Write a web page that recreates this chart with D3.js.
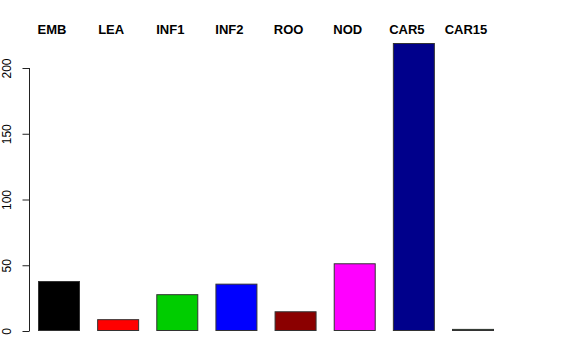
<!DOCTYPE html>
<html>
<head>
<meta charset="utf-8">
<script src="https://cdn.jsdelivr.net/npm/d3@7"></script>
<style>
  html, body { margin: 0; padding: 0; background: #fff; }
  svg { display: block; font-family: "Liberation Sans", Arial, sans-serif; }
</style>
</head>
<body>
<svg id="chart" width="576" height="360"></svg>
<script>
const categories = ['EMB', 'LEA', 'INF1', 'INF2', 'ROO', 'NOD', 'CAR5', 'CAR15'];
const values = [38, 9, 28, 36, 15, 51.5, 219, 1.6];
const barColors = ['#000000', '#ff0000', '#00cd00', '#0000ff', '#8b0000', '#ff00ff', '#00008b', '#006400'];
const yTicks = [0, 50, 100, 150, 200];

const width = 576, height = 360;
const svg = d3.select('#chart');

const x = d3.scaleBand()
    .domain(categories)
    .range([38, 494])
    .paddingInner(0.29)
    .paddingOuter(0);

const y = d3.scaleLinear()
    .domain([0, 200])
    .range([331, 68]);

// bars
svg.append('g')
    .selectAll('rect')
    .data(categories)
    .join('rect')
    .attr('x', d => x(d) + 0.5)
    .attr('y', (d, i) => y(values[i]) + 0.5)
    .attr('width', x.bandwidth() - 1)
    .attr('height', (d, i) => y(0) - y(values[i]) - 1)
    .attr('fill', (d, i) => barColors[i])
    .attr('stroke', '#333')
    .attr('stroke-width', 1);

// y axis, R style
svg.append('g')
    .attr('transform', 'translate(29.5,0)')
    .call(d3.axisLeft(y).tickValues(yTicks).tickSize(7).tickPadding(0).tickFormat(d3.format('d')))
    .call(g => g.select('.domain').attr('d', `M0,${y(0)}V${y(200)}`).attr('stroke', '#222'))
    .call(g => g.selectAll('.tick line').attr('stroke', '#222'))
    .call(g => g.selectAll('.tick text')
        .attr('transform', 'rotate(-90)')
        .attr('x', 0)
        .attr('y', -18.5)
        .attr('dy', 0)
        .attr('text-anchor', 'middle')
        .attr('font-size', 12)
        .attr('font-family', '"Liberation Sans", Arial, sans-serif')
        .attr('fill', '#000'));

// category labels on top
svg.append('g')
    .selectAll('text')
    .data(categories)
    .join('text')
    .attr('x', d => x(d) + x.bandwidth() / 2 - 7)
    .attr('y', 34)
    .attr('text-anchor', 'middle')
    .attr('font-size', 13)
    .attr('font-weight', 'bold')
    .attr('fill', '#000')
    .text(d => d);
</script>
</body>
</html>
